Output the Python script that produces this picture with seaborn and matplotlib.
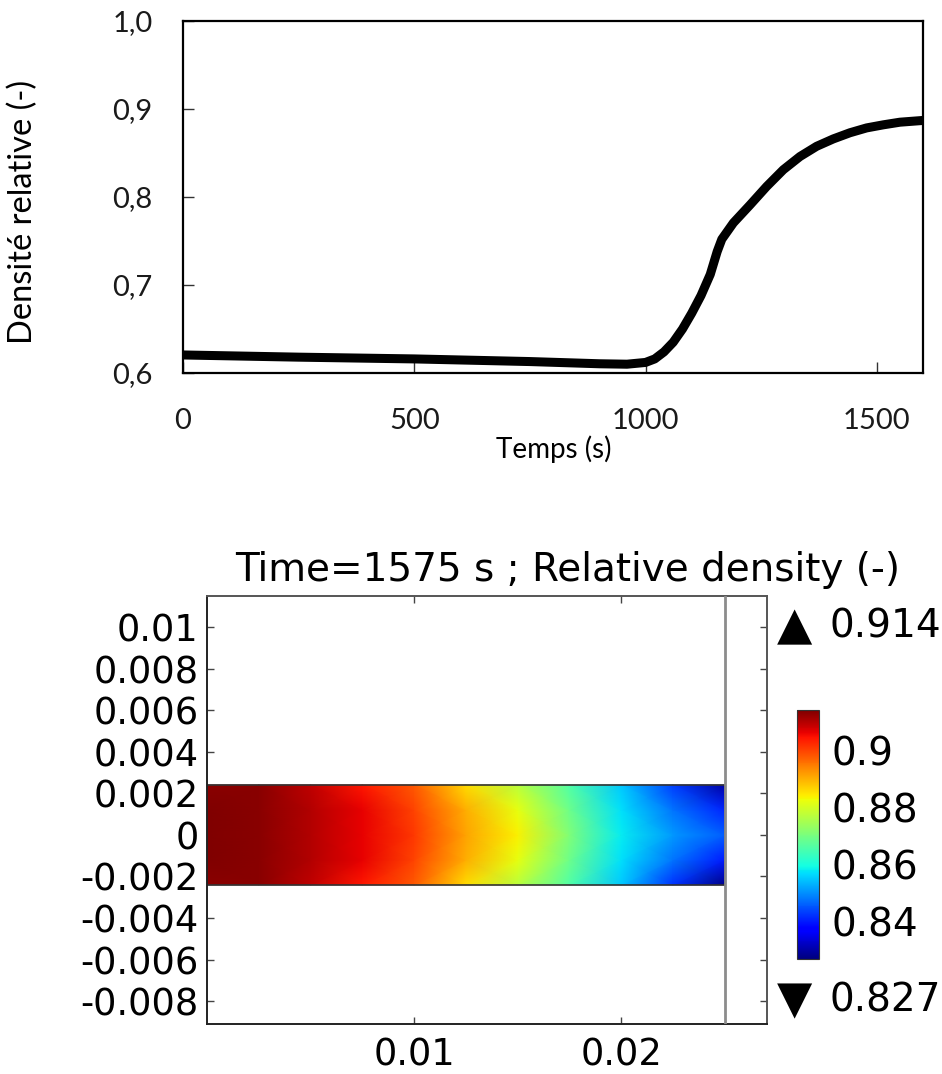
import numpy as np
import pandas as pd
import matplotlib
matplotlib.use("Agg")
import matplotlib.pyplot as plt
import seaborn as sns

# ---------------- data ----------------
time_s = [0, 250, 500, 750, 900, 960, 1000, 1020, 1040, 1060, 1080, 1100,
          1120, 1140, 1155, 1165, 1190, 1226, 1262, 1298, 1334, 1370, 1406,
          1442, 1478, 1514, 1550, 1600]
rel_density = [0.6205, 0.618, 0.616, 0.613, 0.6105, 0.6100, 0.612, 0.616,
               0.624, 0.635, 0.650, 0.668, 0.688, 0.712, 0.738, 0.752, 0.7706,
               0.791, 0.812, 0.831, 0.846, 0.8576, 0.866, 0.873, 0.8785,
               0.882, 0.885, 0.887]
top_yticks = [0.6, 0.7, 0.8, 0.9, 1.0]
top_yticklabels = ["0,6", "0,7", "0,8", "0,9", "1,0"]
top_xticks = [0, 500, 1000, 1500]
top_xticklabels = ["0", "500", "1000", "1500"]

field_x = [0, 0.0025, 0.005, 0.0075, 0.01, 0.0125, 0.015, 0.0175, 0.02, 0.0225, 0.025]
field_y = [-0.0024, -0.0012, 0.0, 0.0012, 0.0024]
field_row_bottom = [0.913, 0.913, 0.909, 0.904, 0.898, 0.886, 0.877, 0.866, 0.855, 0.842, 0.828]
field_row_lower = [0.914, 0.913, 0.910, 0.906, 0.900, 0.890, 0.882, 0.869, 0.857, 0.848, 0.840]
field_row_center = [0.914, 0.913, 0.910, 0.906, 0.901, 0.891, 0.884, 0.871, 0.858, 0.851, 0.846]
field_row_upper = [0.914, 0.913, 0.910, 0.906, 0.900, 0.890, 0.882, 0.869, 0.857, 0.848, 0.841]
field_row_top = [0.913, 0.913, 0.909, 0.904, 0.898, 0.886, 0.877, 0.866, 0.855, 0.843, 0.830]
field_min, field_max = 0.827, 0.914
bot_yticks = [-0.008, -0.006, -0.004, -0.002, 0.0, 0.002, 0.004, 0.006, 0.008, 0.01]
bot_yticklabels = ["-0.008", "-0.006", "-0.004", "-0.002", "0", "0.002", "0.004",
                   "0.006", "0.008", "0.01"]
bot_xticks = [0.01, 0.02]
bot_xticklabels = ["0.01", "0.02"]
cbar_ticks = [0.84, 0.86, 0.88, 0.90]
cbar_ticklabels = ["0.84", "0.86", "0.88", "0.9"]

# ---------------- style ----------------
sns.set_style("white")
plt.rcParams["font.family"] = ["Lato", "DejaVu Sans"]
plt.rcParams["text.color"] = "black"

W, H = 942, 1074
fig = plt.figure(figsize=(W / 100, H / 100), dpi=100)

def box(x0, y0, x1, y1):
    return [x0 / W, 1 - y1 / H, (x1 - x0) / W, (y1 - y0) / H]

# ---------------- top plot ----------------
ax1 = fig.add_axes(box(183, 21, 923, 373))
df = pd.DataFrame({"t": time_s, "d": rel_density})
sns.lineplot(data=df, x="t", y="d", color="black", linewidth=6.5, ax=ax1)
ax1.set_xlim(0, 1600)
ax1.set_ylim(0.6, 1.0)
ax1.set_xticks(top_xticks)
ax1.set_xticklabels(top_xticklabels)
ax1.set_yticks(top_yticks)
ax1.set_yticklabels(top_yticklabels)
ax1.set_xlabel("")
ax1.set_ylabel("")
for s in ax1.spines.values():
    s.set_color("black")
    s.set_linewidth(1.6)
ax1.tick_params(axis="both", direction="in", length=8, width=1, color="#333333",
                labelsize=21, labelcolor="#1a1a1a")
ax1.tick_params(axis="x", pad=25, bottom=True)
ax1.tick_params(axis="y", pad=22, left=True)
fig.text(554 / W, 1 - 449 / H, "Temps (s)", ha="center", va="center",
         fontsize=20, color="black")
fig.text(23 / W, 1 - 212 / H, "Densité relative (-)", ha="center", va="center",
         rotation=90, fontsize=23.5, color="black")

# ---------------- bottom plot ----------------
ax2 = fig.add_axes(box(207, 596, 767, 1024))
Z = np.array([field_row_bottom, field_row_lower, field_row_center,
              field_row_upper, field_row_top])
XX, YY = np.meshgrid(field_x, field_y)
mesh = ax2.pcolormesh(XX, YY, Z, shading="gouraud", cmap="jet",
                      vmin=field_min, vmax=field_max, zorder=1)
ax2.add_patch(plt.Rectangle((field_x[0], field_y[0]), field_x[-1] - field_x[0],
                            field_y[-1] - field_y[0], fill=False,
                            edgecolor="#333333", linewidth=1.2, zorder=2))
ax2.axvline(0.025, color="#8c8c8c", linewidth=2, zorder=3)
ax2.set_xlim(0, 0.02705)
ax2.set_ylim(-0.0091, 0.0115)
ax2.set_xticks(bot_xticks)
ax2.set_xticklabels(bot_xticklabels)
ax2.set_yticks(bot_yticks)
ax2.set_yticklabels(bot_yticklabels)
for name, s in ax2.spines.items():
    s.set_linewidth(1.4)
    s.set_color("#222222" if name in ("left", "bottom") else "#555555")
ax2.tick_params(axis="both", direction="in", length=5, width=1, color="#444444",
                top=True, right=True, bottom=True, left=True,
                labelsize=26.5, labelcolor="black", labelfontfamily="DejaVu Sans")
ax2.tick_params(axis="x", pad=9)
ax2.tick_params(axis="y", pad=6)
fig.text(568 / W, 1 - 570 / H, "Time=1575 s ; Relative density (-)",
         ha="center", va="center", fontsize=28, family="DejaVu Sans")

cax = fig.add_axes(box(797, 710, 819, 959))
cb = fig.colorbar(mesh, cax=cax, orientation="vertical")
cb.set_ticks(cbar_ticks)
cb.set_ticklabels(cbar_ticklabels)
cb.outline.set_linewidth(0.8)
cb.outline.set_edgecolor("#333333")
cax.tick_params(direction="in", length=4, width=1, pad=9, labelsize=28,
                labelcolor="black", labelfontfamily="DejaVu Sans")

fig.text(777 / W, 1 - 627 / H, "\u25B2", ha="left", va="center",
         fontsize=33, family="DejaVu Sans")
fig.text(830 / W, 1 - 627 / H, "0.914", ha="left", va="center",
         fontsize=28, family="DejaVu Sans")
fig.text(777 / W, 1 - 1001 / H, "\u25BC", ha="left", va="center",
         fontsize=33, family="DejaVu Sans")
fig.text(830 / W, 1 - 1001 / H, "0.827", ha="left", va="center",
         fontsize=28, family="DejaVu Sans")

fig.savefig("out.png", dpi=100)
